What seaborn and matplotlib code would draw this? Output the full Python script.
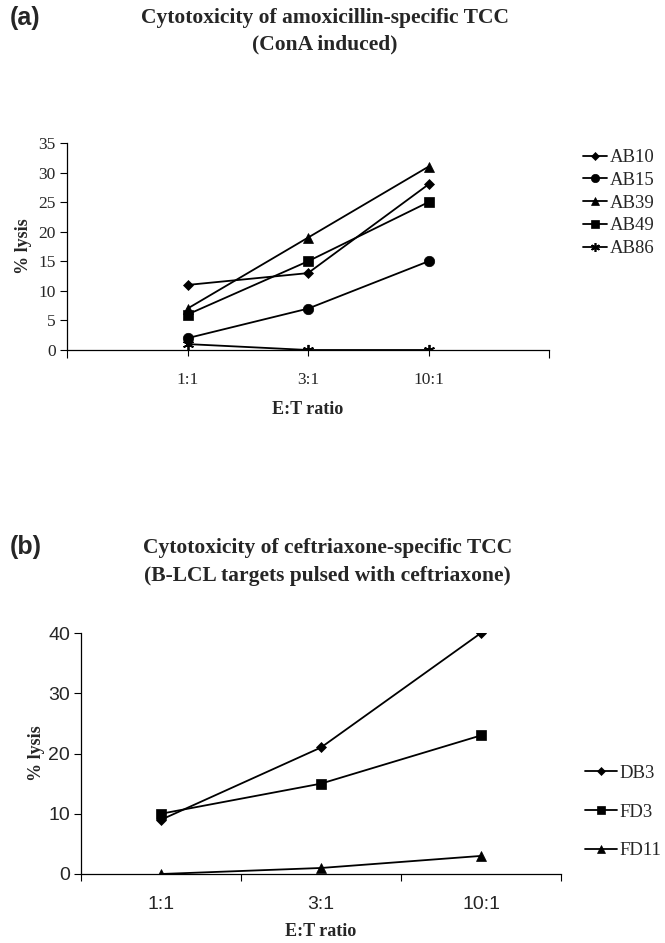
import matplotlib
matplotlib.use("Agg")
import matplotlib.pyplot as plt
import seaborn as sns
import pandas as pd
from matplotlib.lines import Line2D

ratios = ["1:1", "3:1", "10:1"]

# Panel (a)
series_a = ["AB10", "AB15", "AB39", "AB49", "AB86"]
AB10 = [11, 13, 28]
AB15 = [2, 7, 15]
AB39 = [7, 19, 31]
AB49 = [6, 15, 25]
AB86 = [1, 0, 0]
values_a = [AB10, AB15, AB39, AB49, AB86]
yticks_a = [0, 5, 10, 15, 20, 25, 30, 35]

# Panel (b)
series_b = ["DB3", "FD3", "FD11"]
DB3 = [9, 21, 40]
FD3 = [10, 15, 23]
FD11 = [0, 1, 3]
values_b = [DB3, FD3, FD11]
yticks_b = [0, 10, 20, 30, 40]

marker_map = {"AB10": "D", "AB15": "o", "AB39": "^", "AB49": "s", "AB86": (6, 2, 0),
              "DB3": "D", "FD3": "s", "FD11": "^"}
msize = {"D": 5.5, "o": 7.5, "^": 7.5, "s": 7}

sns.set_theme(style="white")
serif = ["Liberation Serif", "DejaVu Serif"]
sans = ["Liberation Sans", "DejaVu Sans"]

def long_df(names, vals):
    rows = []
    for n, v in zip(names, vals):
        for r, y in zip(ratios, v):
            rows.append({"ratio": r, "lysis": y, "series": n})
    return pd.DataFrame(rows)

fig = plt.figure(figsize=(6.65, 9.43), dpi=100)
ax_a = fig.add_axes([67/665, 1-350/943, (549-67)/665, (350-143)/943])
ax_b = fig.add_axes([81/665, 1-874/943, (561-81)/665, (874-633)/943])

def msz(m):
    return 8 if isinstance(m, tuple) else msize[m]

def draw(ax, names, vals, leg_size, leg_spacing, leg_anchor, xlabelpad, ylabelpad, hlen):
    df = long_df(names, vals)
    for n in names:
        sub = df[df.series == n]
        m = marker_map[n]
        sns.lineplot(data=sub, x="ratio", y="lysis", ax=ax, color="black",
                     marker=m, markersize=msz(m), markeredgecolor="black",
                     markeredgewidth=1.3 if isinstance(m, tuple) else 0.5,
                     linewidth=1.3, legend=False, sort=False)
    for s in ["top", "right"]:
        ax.spines[s].set_visible(False)
    for s in ["left", "bottom"]:
        ax.spines[s].set_color("black")
        ax.spines[s].set_linewidth(0.9)
    ax.set_xlabel("E:T ratio", fontfamily=serif, fontweight="bold", fontsize=13, labelpad=xlabelpad)
    ax.set_ylabel("% lysis", fontfamily=serif, fontweight="bold", fontsize=13, labelpad=ylabelpad)
    handles = []
    for n in names:
        m = marker_map[n]
        handles.append(Line2D([], [], color="black", marker=m, markersize=msz(m) * 0.8,
                              markeredgewidth=1.2 if isinstance(m, tuple) else 0.5,
                              linewidth=1.3, label=n))
    ax.legend(handles=handles, loc="center left", bbox_to_anchor=leg_anchor, frameon=False,
              prop={"family": serif, "size": leg_size}, handlelength=hlen,
              handletextpad=0.15, labelspacing=leg_spacing, borderaxespad=0, borderpad=0)

# Panel (a)
draw(ax_a, series_a, values_a, 13.5, 0.3, (1.07, 0.71), 9, 5, 1.3)
ax_a.set_xlim(-1, 3)
ax_a.set_ylim(0, 35)
ax_a.set_yticks(yticks_a)
ax_a.set_yticklabels([str(t) for t in yticks_a], fontfamily=serif, fontsize=12.5)
ax_a.set_xticks([0, 1, 2])
ax_a.set_xticklabels(ratios, fontfamily=serif, fontsize=12.5)
ax_a.set_xticks([-1, 3], minor=True)
ax_a.tick_params(axis="x", which="major", bottom=True, length=4, width=0.8, color="black", pad=12)
ax_a.tick_params(axis="x", which="minor", bottom=True, length=6, width=0.8, color="black")
ax_a.tick_params(axis="y", left=True, length=5, width=0.8, color="black", pad=3)

# Panel (b)
draw(ax_b, series_b, values_b, 13.5, 1.15, (1.05, 0.257), 7, 2, 1.7)
ax_b.set_xlim(-0.5, 2.5)
ax_b.set_ylim(0, 40)
ax_b.set_yticks(yticks_b)
ax_b.set_yticklabels([str(t) for t in yticks_b], fontfamily=sans, fontsize=14)
ax_b.set_xticks([0, 1, 2])
ax_b.set_xticklabels(ratios, fontfamily=sans, fontsize=14)
ax_b.set_xticks([-0.5, 0.5, 1.5, 2.5], minor=True)
ax_b.tick_params(axis="x", which="major", bottom=False, pad=10)
ax_b.tick_params(axis="x", which="minor", bottom=True, length=5, width=0.8, color="black")
ax_b.tick_params(axis="y", left=True, length=5, width=0.8, color="black", pad=3)

# Titles and panel letters
tfs = 15.5
fig.text(0.488, 1-18/943, "Cytotoxicity of amoxicillin-specific TCC", ha="center", va="center",
         fontfamily=serif, fontweight="bold", fontsize=tfs)
fig.text(0.488, 1-44/943, "(ConA induced)", ha="center", va="center",
         fontfamily=serif, fontweight="bold", fontsize=tfs)
fig.text(10/665, 1-18/943, "(a)", ha="left", va="center", fontfamily=sans, fontweight="bold", fontsize=18)

fig.text(0.493, 1-548/943, "Cytotoxicity of ceftriaxone-specific TCC", ha="center", va="center",
         fontfamily=serif, fontweight="bold", fontsize=tfs)
fig.text(0.493, 1-576/943, "(B-LCL targets pulsed with ceftriaxone)", ha="center", va="center",
         fontfamily=serif, fontweight="bold", fontsize=tfs)
fig.text(10/665, 1-547/943, "(b)", ha="left", va="center", fontfamily=sans, fontweight="bold", fontsize=18)

fig.savefig("out.png", dpi=100, facecolor="white")
